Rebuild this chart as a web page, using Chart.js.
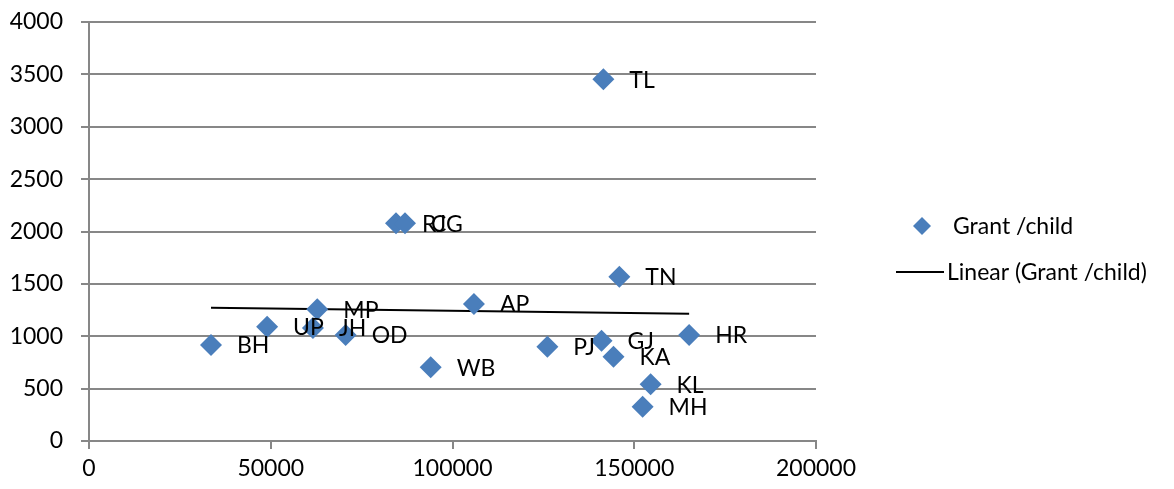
<!DOCTYPE html>
<html>
<head>
<meta charset="utf-8">
<script src="https://cdn.jsdelivr.net/npm/chart.js@4.4.1/dist/chart.umd.min.js"></script>
<style>
	html, body { margin: 0; padding: 0; background: #fff; }
	#wrap { width: 1174px; height: 489px; }
</style>
</head>
<body>
<div id="wrap"><canvas id="myChart" width="1174" height="489"></canvas></div>
<script>
// States and their values
const states = ['BH', 'UP', 'JH', 'MP', 'OD', 'RJ', 'CG', 'WB', 'AP', 'PJ', 'GJ', 'TL', 'KA', 'TN', 'MH', 'KL', 'HR'];
const xValues = [33560, 49000, 61600, 62800, 70600, 84460, 86940, 94000, 105900, 126100, 141000, 141500, 144300, 145900, 152300, 154500, 165100];
const grantPerChild = [916, 1091, 1079, 1257, 1012, 2078, 2078, 703, 1308, 900, 957, 3453, 805, 1569, 328, 541, 1012];

const xTicks = [0, 50000, 100000, 150000, 200000];
const yTicks = [0, 500, 1000, 1500, 2000, 2500, 3000, 3500, 4000];

const FONT = 'Lato, "Liberation Sans", sans-serif';
const FSIZE = 23;
const BLUE = '#4A7EBB';
const GRID = '#878787';

// least squares trendline over the points
const n = xValues.length;
const mx = xValues.reduce((a, b) => a + b, 0) / n;
const my = grantPerChild.reduce((a, b) => a + b, 0) / n;
let sxy = 0, sxx = 0;
for (let i = 0; i < n; i++) {
	sxy += (xValues[i] - mx) * (grantPerChild[i] - my);
	sxx += (xValues[i] - mx) * (xValues[i] - mx);
}
const slope = sxy / sxx;
const icept = my - slope * mx;
const xMin = Math.min(...xValues);
const xMax = Math.max(...xValues);
const trend = [
	{ x: xMin, y: icept + slope * xMin },
	{ x: xMax, y: icept + slope * xMax }
];

const points = xValues.map((x, i) => ({ x: x, y: grantPerChild[i] }));

// state labels to the right of each point
const pointLabels = {
	id: 'pointLabels',
	afterDatasetsDraw(chart) {
		const ctx = chart.ctx;
		const meta = chart.getDatasetMeta(0);
		ctx.save();
		ctx.font = FSIZE + 'px ' + FONT;
		ctx.fillStyle = '#000';
		ctx.textBaseline = 'middle';
		ctx.textAlign = 'left';
		meta.data.forEach((pt, i) => {
			ctx.fillText(states[i], pt.x + 26, pt.y + 1);
		});
		ctx.restore();
	}
};

// legend on the right
const sideLegend = {
	id: 'sideLegend',
	afterDraw(chart) {
		const ctx = chart.ctx;
		ctx.save();
		ctx.fillStyle = BLUE;
		ctx.beginPath();
		ctx.moveTo(922, 217);
		ctx.lineTo(931, 226);
		ctx.lineTo(922, 235);
		ctx.lineTo(913, 226);
		ctx.closePath();
		ctx.fill();
		ctx.strokeStyle = '#000';
		ctx.lineWidth = 2;
		ctx.beginPath();
		ctx.moveTo(896, 272);
		ctx.lineTo(944, 272);
		ctx.stroke();
		ctx.font = FSIZE + 'px ' + FONT;
		ctx.fillStyle = '#000';
		ctx.textBaseline = 'middle';
		ctx.fillText('Grant /child', 953, 227);
		ctx.fillText('Linear (Grant /child)', 947, 273);
		ctx.restore();
	}
};

new Chart(document.getElementById('myChart'), {
	type: 'scatter',
	data: {
		datasets: [{
			label: 'Grant /child',
			data: points,
			pointStyle: 'rectRot',
			pointRadius: 11,
			pointHoverRadius: 11,
			backgroundColor: BLUE,
			borderColor: BLUE,
			borderWidth: 0
		}, {
			type: 'line',
			label: 'Linear (Grant /child)',
			data: trend,
			borderColor: '#000',
			borderWidth: 2,
			pointRadius: 0,
			fill: false
		}]
	},
	options: {
		responsive: false,
		animation: false,
		layout: { padding: { left: 0, right: 358, top: 22, bottom: 0 } },
		plugins: {
			legend: { display: false },
			tooltip: { enabled: false }
		},
		scales: {
			x: {
				type: 'linear',
				min: 0,
				max: 200000,
				afterBuildTicks: (axis) => { axis.ticks = xTicks.map(v => ({ value: v })); },
				afterFit: (axis) => { axis.height = 48; },
				grid: { drawOnChartArea: false, drawTicks: true, tickLength: 8, color: GRID, lineWidth: 2 },
				border: { color: GRID, width: 2 },
				ticks: { color: '#000', padding: 6, maxRotation: 0, font: { family: FONT, size: FSIZE }, callback: (v) => String(v) }
			},
			y: {
				min: 0,
				max: 4000,
				afterBuildTicks: (axis) => { axis.ticks = yTicks.map(v => ({ value: v })); },
				afterFit: (axis) => {
					axis.width = 89;
					axis.paddingTop = 0;
					axis.paddingBottom = 0;
				},
				grid: { drawTicks: true, tickLength: 8, color: GRID, lineWidth: 2 },
				border: { color: GRID, width: 2 },
				ticks: { color: '#000', padding: 18, font: { family: FONT, size: FSIZE }, callback: (v) => String(v) }
			}
		}
	},
	plugins: [pointLabels, sideLegend]
});
</script>
</body>
</html>
